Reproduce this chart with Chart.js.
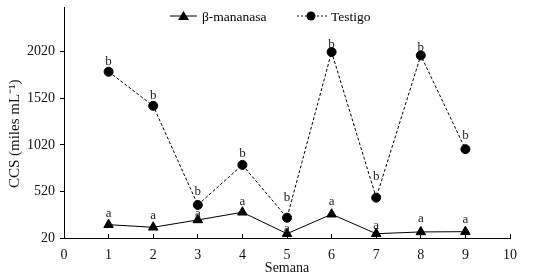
<!DOCTYPE html>
<html>
<head>
<meta charset="utf-8">
<script src="https://cdn.jsdelivr.net/npm/chart.js@4/dist/chart.umd.min.js"></script>
<style>
  html, body { margin: 0; padding: 0; background: #fff; }
  #wrap { width: 548px; height: 276px; }
</style>
</head>
<body>
<div id="wrap"><canvas id="grafico"></canvas></div>
<script>
/* datos */
const semanas = [1, 2, 3, 4, 5, 6, 7, 8, 9];
const mananasa = [163, 135, 214, 296, 66, 275, 66, 85, 88];
const testigo = [1805, 1439, 375, 805, 238, 2017, 453, 1980, 974];
const letrasMananasa = ["a", "a", "a", "a", "a", "a", "a", "a", "a"];
const letrasTestigo = ["b", "b", "b", "b", "b", "b", "b", "b", "b"];
const ticksY = [20, 520, 1020, 1520, 2020];
const ticksX = [0, 1, 2, 3, 4, 5, 6, 7, 8, 9, 10];

/* separacion (px) de cada letra sobre su punto */
const sepMananasa = [11, 12, 6, 11, 5, 13, 8, 13, 12];
const sepTestigo = [10, 10, 13, 11, 20, 7, 21, 8, 14];

const FUENTE = "'Times New Roman', 'Liberation Serif', Tinos, serif";

function puntos(ys) {
    return semanas.map((x, i) => ({ x: x, y: ys[i] }));
}

/* letras sobre cada punto */
const pluginLetras = {
    id: "letras",
    afterDatasetsDraw(chart) {
        const ctx = chart.ctx;
        ctx.save();
        ctx.fillStyle = "#222";
        ctx.font = "13px " + FUENTE;
        ctx.textAlign = "center";
        ctx.textBaseline = "middle";
        const grupos = [[letrasMananasa, sepMananasa], [letrasTestigo, sepTestigo]];
        grupos.forEach(([letras, sep], d) => {
            const meta = chart.getDatasetMeta(d);
            meta.data.forEach((p, i) => {
                ctx.fillText(letras[i], p.x, p.y - sep[i]);
            });
        });
        ctx.restore();
    }
};

/* leyenda dentro del area */
const pluginLeyenda = {
    id: "leyenda",
    afterDraw(chart) {
        const ctx = chart.ctx;
        const y = 16;
        ctx.save();
        ctx.strokeStyle = "#000";
        ctx.fillStyle = "#000";
        ctx.lineWidth = 1;

        ctx.beginPath();
        ctx.moveTo(170, y); ctx.lineTo(197, y);
        ctx.stroke();
        ctx.beginPath();
        ctx.moveTo(183.5, y - 5); ctx.lineTo(189, y + 4); ctx.lineTo(178, y + 4);
        ctx.closePath();
        ctx.fill();

        ctx.setLineDash([2, 2]);
        ctx.beginPath();
        ctx.moveTo(297, y); ctx.lineTo(327, y);
        ctx.stroke();
        ctx.setLineDash([]);
        ctx.beginPath();
        ctx.arc(311, y, 4.5, 0, Math.PI * 2);
        ctx.fill();

        ctx.font = "13.5px " + FUENTE;
        ctx.textBaseline = "middle";
        ctx.textAlign = "left";
        ctx.fillText("\u03B2-mananasa", 202, y + 1);
        ctx.fillText("Testigo", 331, y + 1);
        ctx.restore();
    }
};

new Chart(document.getElementById("grafico"), {
    type: "line",
    data: {
        datasets: [{
            label: "\u03B2-mananasa",
            data: puntos(mananasa),
            borderColor: "#000",
            backgroundColor: "#000",
            borderWidth: 1,
            pointStyle: "triangle",
            pointRadius: 5.5,
            tension: 0
        }, {
            label: "Testigo",
            data: puntos(testigo),
            borderColor: "#000",
            backgroundColor: "#000",
            borderWidth: 1,
            borderDash: [3, 2],
            pointStyle: "circle",
            pointRadius: 4.5,
            tension: 0
        }]
    },
    options: {
        responsive: true,
        maintainAspectRatio: false,
        animation: false,
        layout: { padding: { left: 0, right: 38, top: 7, bottom: 0 } },
        plugins: {
            legend: { display: false },
            tooltip: { enabled: false }
        },
        scales: {
            x: {
                type: "linear",
                min: 0,
                max: 10,
                afterBuildTicks: (s) => { s.ticks = ticksX.map(v => ({ value: v })); },
                afterFit: (s) => { s.height = 38; s.paddingRight = 0; s.paddingLeft = 0; },
                grid: { display: true, drawOnChartArea: false, color: "#000", tickLength: -4 },
                border: { color: "#000", width: 1 },
                ticks: { color: "#111", font: { family: FUENTE, size: 14 }, padding: 13, maxRotation: 0,
                         callback: (v) => String(v) },
                title: { display: true, text: "Semana", color: "#111", font: { family: FUENTE, size: 14 },
                         padding: { top: 0, bottom: -1 } }
            },
            y: {
                min: 20,
                max: 2500,
                afterBuildTicks: (s) => { s.ticks = ticksY.map(v => ({ value: v })); },
                afterFit: (s) => { s.width = 64; s.paddingTop = 0; s.paddingBottom = 0; },
                grid: { display: true, drawOnChartArea: false, color: "#000", tickLength: 4 },
                border: { color: "#000", width: 1 },
                ticks: { color: "#111", font: { family: FUENTE, size: 14 }, padding: 5,
                         callback: (v) => String(v) },
                title: { display: true, text: "CCS (miles mL\u207B\u00B9)\u2002\u2002\u2002", color: "#111",
                         font: { family: FUENTE, size: 15 }, padding: { top: 6, bottom: 0 } }
            }
        }
    },
    plugins: [pluginLetras, pluginLeyenda]
});
</script>
</body>
</html>
